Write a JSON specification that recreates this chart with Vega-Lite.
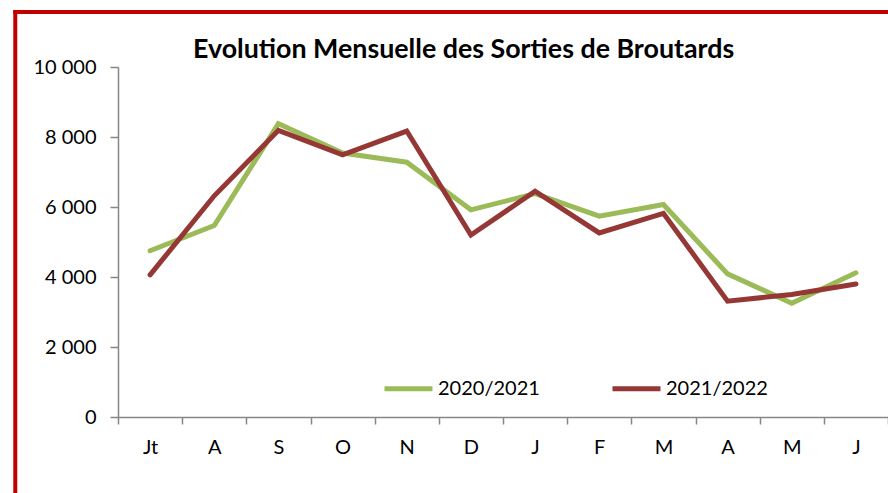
{
  "$schema": "https://vega.github.io/schema/vega-lite/v6.json",
  "width": 770,
  "height": 350,
  "autosize": {"type": "none"},
  "padding": {"left": 118, "top": 67, "right": 0, "bottom": 76},
  "background": "white",
  "config": {"view": {"stroke": null}, "font": "Lato"},
  "title": {
    "text": "Evolution Mensuelle des Sorties de Broutards",
    "anchor": "start",
    "frame": "group",
    "dx": 75,
    "dy": 77,
    "offset": 0,
    "baseline": "alphabetic",
    "font": "Lato",
    "fontSize": 26.8,
    "fontWeight": "bold",
    "color": "#000000"
  },
  "data": {
    "values": [
      {"idx": 0, "mois": "Jt", "saison": "2020/2021", "sorties": 4750},
      {"idx": 1, "mois": "A", "saison": "2020/2021", "sorties": 5470},
      {"idx": 2, "mois": "S", "saison": "2020/2021", "sorties": 8380},
      {"idx": 3, "mois": "O", "saison": "2020/2021", "sorties": 7540},
      {"idx": 4, "mois": "N", "saison": "2020/2021", "sorties": 7280},
      {"idx": 5, "mois": "D", "saison": "2020/2021", "sorties": 5920},
      {"idx": 6, "mois": "J", "saison": "2020/2021", "sorties": 6380},
      {"idx": 7, "mois": "F", "saison": "2020/2021", "sorties": 5740},
      {"idx": 8, "mois": "M", "saison": "2020/2021", "sorties": 6070},
      {"idx": 9, "mois": "A", "saison": "2020/2021", "sorties": 4090},
      {"idx": 10, "mois": "M", "saison": "2020/2021", "sorties": 3250},
      {"idx": 11, "mois": "J", "saison": "2020/2021", "sorties": 4120},
      {"idx": 0, "mois": "Jt", "saison": "2021/2022", "sorties": 4060},
      {"idx": 1, "mois": "A", "saison": "2021/2022", "sorties": 6320},
      {"idx": 2, "mois": "S", "saison": "2021/2022", "sorties": 8190},
      {"idx": 3, "mois": "O", "saison": "2021/2022", "sorties": 7490},
      {"idx": 4, "mois": "N", "saison": "2021/2022", "sorties": 8170},
      {"idx": 5, "mois": "D", "saison": "2021/2022", "sorties": 5200},
      {"idx": 6, "mois": "J", "saison": "2021/2022", "sorties": 6450},
      {"idx": 7, "mois": "F", "saison": "2021/2022", "sorties": 5260},
      {"idx": 8, "mois": "M", "saison": "2021/2022", "sorties": 5820},
      {"idx": 9, "mois": "A", "saison": "2021/2022", "sorties": 3310},
      {"idx": 10, "mois": "M", "saison": "2021/2022", "sorties": 3500},
      {"idx": 11, "mois": "J", "saison": "2021/2022", "sorties": 3800}
    ]
  },
  "resolve": {"scale": {"x": "independent", "y": "independent"}},
  "layer": [
    {
      "mark": {"type": "line", "strokeWidth": 5, "strokeCap": "round", "strokeJoin": "miter"},
      "encoding": {
        "x": {
          "field": "idx",
          "type": "ordinal",
          "bandPosition": 0.5,
          "scale": {"type": "band", "paddingInner": 0, "paddingOuter": 0},
          "axis": {
            "title": null,
            "labelExpr": "['Jt','A','S','O','N','D','J','F','M','A','M','J'][datum.value]",
            "labelAngle": 0,
            "tickBand": "extent",
            "tickSize": 7,
            "tickColor": "#868686",
            "tickWidth": 1.5,
            "domainColor": "#868686",
            "domainWidth": 1.5,
            "labelFont": "Lato",
            "labelFontSize": 20,
            "labelColor": "#000000",
            "labelPadding": 13,
            "grid": false
          }
        },
        "y": {
          "field": "sorties",
          "type": "quantitative",
          "scale": {"domain": [0, 10000], "nice": false},
          "axis": {
            "title": null,
            "values": [0, 2000, 4000, 6000, 8000, 10000],
            "labelExpr": "replace(format(datum.value, ',d'), ',', ' ')",
            "tickSize": 8,
            "tickColor": "#868686",
            "tickWidth": 1.5,
            "domainColor": "#868686",
            "domainWidth": 1.5,
            "labelFont": "Lato",
            "labelFontSize": 20,
            "labelColor": "#000000",
            "labelPadding": 14,
            "grid": false
          }
        },
        "color": {
          "field": "saison",
          "type": "nominal",
          "scale": {"domain": ["2020/2021", "2021/2022"], "range": ["#9BBB59", "#953735"]},
          "legend": {
            "title": null,
            "orient": "none",
            "direction": "horizontal",
            "legendX": 264,
            "legendY": 295,
            "symbolType": "stroke",
            "symbolSize": 2304,
            "symbolStrokeWidth": 5,
            "labelFont": "Lato",
            "labelFontSize": 20,
            "labelColor": "#000000",
            "labelOffset": 3,
            "columnPadding": 62
          }
        }
      }
    },
    {
      "data": {"values": [{}]},
      "mark": {"type": "rule", "color": "#C00000", "strokeWidth": 4, "clip": false},
      "encoding": {
        "x": {"datum": -0.1334, "type": "quantitative", "scale": {"domain": [0, 1]}, "axis": null},
        "y": {"datum": 11630, "type": "quantitative", "scale": {"domain": [0, 10000]}, "axis": null},
        "y2": {"datum": -2400}
      }
    },
    {
      "data": {"values": [{}]},
      "mark": {"type": "rule", "color": "#C00000", "strokeWidth": 4, "clip": false},
      "encoding": {
        "x": {"datum": -0.136, "type": "quantitative", "scale": {"domain": [0, 1]}, "axis": null},
        "x2": {"datum": 1.05},
        "y": {"datum": 11571, "type": "quantitative", "scale": {"domain": [0, 10000]}, "axis": null}
      }
    }
  ]
}
